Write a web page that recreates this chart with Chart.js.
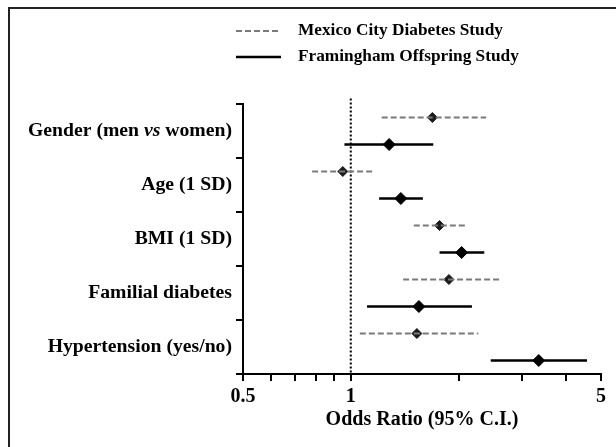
<!DOCTYPE html>
<html>
<head>
<meta charset="utf-8">
<script src="https://cdn.jsdelivr.net/npm/chart.js@4/dist/chart.umd.min.js"></script>
<style>
  html, body { margin: 0; padding: 0; background: #fff; overflow: hidden; }
  #frame {
    position: absolute; left: 8px; top: 7px; width: 800px; height: 600px;
    border-left: 2px solid #222; border-top: 2px solid #222;
  }
  #wrap { position: absolute; left: 0; top: 0; width: 640px; height: 460px; }
</style>
</head>
<body>
<div id="frame"></div>
<div id="wrap"><canvas id="forestChart" width="640" height="460"></canvas></div>
<script>
// risk factors, top to bottom
const categories = ["Gender (men vs women)", "Age (1 SD)", "BMI (1 SD)", "Familial diabetes", "Hypertension (yes/no)"];

// Mexico City Diabetes Study
const mexicoOR = [1.69, 0.95, 1.77, 1.88, 1.53];
const mexicoLow = [1.22, 0.78, 1.50, 1.40, 1.06];
const mexicoHigh = [2.39, 1.15, 2.10, 2.60, 2.27];

// Framingham Offspring Study
const framOR = [1.28, 1.38, 2.04, 1.55, 3.35];
const framLow = [0.96, 1.20, 1.77, 1.11, 2.46];
const framHigh = [1.70, 1.59, 2.36, 2.18, 4.57];

const xTicks = [0.5, 0.6, 0.7, 0.8, 0.9, 1, 2, 3, 4, 5];
const xLabels = [0.5, 1, 5];

const FONT = "'Liberation Serif', 'Times New Roman', serif";

// each category takes one unit on the y axis, Mexico row sits above Framingham row
function ciPoints(low, high, shift) {
    let pts = [];
    for (let i = 0; i < low.length; i++) {
        pts.push({ x: low[i], y: i + shift });
        pts.push({ x: high[i], y: i + shift });
        pts.push({ x: null, y: null });
    }
    return pts;
}

function estPoints(or, shift) {
    return or.map((v, i) => ({ x: v, y: i + shift }));
}

const legendPlugin = {
    id: "studyLegend",
    afterDraw(chart) {
        const ctx = chart.ctx;
        const rows = [chart.data.datasets[0], chart.data.datasets[1]];
        const ys = [31, 57];
        ctx.save();
        rows.forEach((ds, i) => {
            ctx.beginPath();
            ctx.setLineDash(ds.borderDash || []);
            ctx.strokeStyle = ds.borderColor;
            ctx.lineWidth = ds.borderWidth;
            ctx.moveTo(236, ys[i]);
            ctx.lineTo(281, ys[i]);
            ctx.stroke();
            ctx.setLineDash([]);
            ctx.fillStyle = "#000";
            ctx.font = "bold 17.3px " + FONT;
            ctx.textBaseline = "middle";
            ctx.textAlign = "left";
            ctx.fillText(ds.label, 298, ys[i] - 0.5);
        });
        ctx.restore();
    }
};

// y labels drawn by hand so the "vs" can be italic
const yLabelPlugin = {
    id: "yLabels",
    afterDraw(chart) {
        const ctx = chart.ctx;
        const yScale = chart.scales.y;
        ctx.save();
        ctx.fillStyle = "#000";
        ctx.textBaseline = "middle";
        ctx.textAlign = "left";
        categories.forEach((label, i) => {
            const parts = label.split(/\b(vs)\b/);
            const fonts = parts.map(p => (p === "vs" ? "italic bold 19.7px " : "bold 19.7px ") + FONT);
            let total = 0;
            parts.forEach((p, k) => { ctx.font = fonts[k]; total += ctx.measureText(p).width; });
            let x = 232 - total;
            const y = yScale.getPixelForValue(i + 0.5);
            parts.forEach((p, k) => {
                ctx.font = fonts[k];
                ctx.fillText(p, x, y);
                x += ctx.measureText(p).width;
            });
        });
        ctx.restore();
    }
};

const ctx = document.getElementById("forestChart").getContext("2d");

new Chart(ctx, {
    type: "scatter",
    data: {
        datasets: [
            {
                label: "Mexico City Diabetes Study",
                data: ciPoints(mexicoLow, mexicoHigh, 0.25),
                showLine: true,
                borderColor: "#7a7a7a",
                borderWidth: 2,
                borderDash: [6, 3],
                pointRadius: 0
            },
            {
                label: "Framingham Offspring Study",
                data: ciPoints(framLow, framHigh, 0.75),
                showLine: true,
                borderColor: "#000",
                borderWidth: 2.5,
                pointRadius: 0
            },
            {
                label: "OR = 1",
                data: [{ x: 1, y: -0.1 }, { x: 1, y: 5 }],
                showLine: true,
                borderColor: "#000",
                borderWidth: 2,
                borderDash: [2, 2],
                pointRadius: 0,
                clip: false
            },
            {
                label: "Mexico OR",
                data: estPoints(mexicoOR, 0.25),
                pointStyle: "rectRot",
                pointRadius: 5,
                backgroundColor: "#1a1a1a",
                borderColor: "#1a1a1a",
                borderWidth: 1
            },
            {
                label: "Framingham OR",
                data: estPoints(framOR, 0.75),
                pointStyle: "rectRot",
                pointRadius: 6,
                backgroundColor: "#000",
                borderColor: "#000",
                borderWidth: 1
            }
        ]
    },
    options: {
        responsive: false,
        animation: false,
        events: [],
        layout: { padding: { top: 104, left: 0, right: 39, bottom: 0 } },
        plugins: {
            legend: { display: false },
            tooltip: { enabled: false }
        },
        scales: {
            x: {
                type: "logarithmic",
                min: 0.5,
                max: 5,
                afterBuildTicks: (scale) => {
                    scale.ticks = xTicks.map(v => ({ value: v }));
                },
                afterFit: (scale) => { scale.height = 86; },
                ticks: {
                    autoSkip: false,
                    maxRotation: 0,
                    padding: 4,
                    color: "#000",
                    font: { family: FONT, size: 20, weight: "bold" },
                    callback: (v) => (xLabels.includes(v) ? String(v) : "")
                },
                grid: {
                    drawOnChartArea: false,
                    color: "#000",
                    lineWidth: 2,
                    tickLength: 7
                },
                border: { color: "#000", width: 2 },
                title: {
                    display: true,
                    text: "Odds Ratio (95% C.I.)",
                    color: "#000",
                    font: { family: FONT, size: 20, weight: "bold" },
                    padding: { top: 0, bottom: 28 }
                }
            },
            y: {
                type: "linear",
                reverse: true,
                min: 0,
                max: 5,
                afterFit: (scale) => { scale.width = 243; },
                ticks: { stepSize: 1, display: false },
                grid: {
                    drawOnChartArea: false,
                    color: "#000",
                    lineWidth: 2,
                    tickLength: 7
                },
                border: { color: "#000", width: 2 }
            }
        }
    },
    plugins: [legendPlugin, yLabelPlugin]
});
</script>
</body>
</html>
